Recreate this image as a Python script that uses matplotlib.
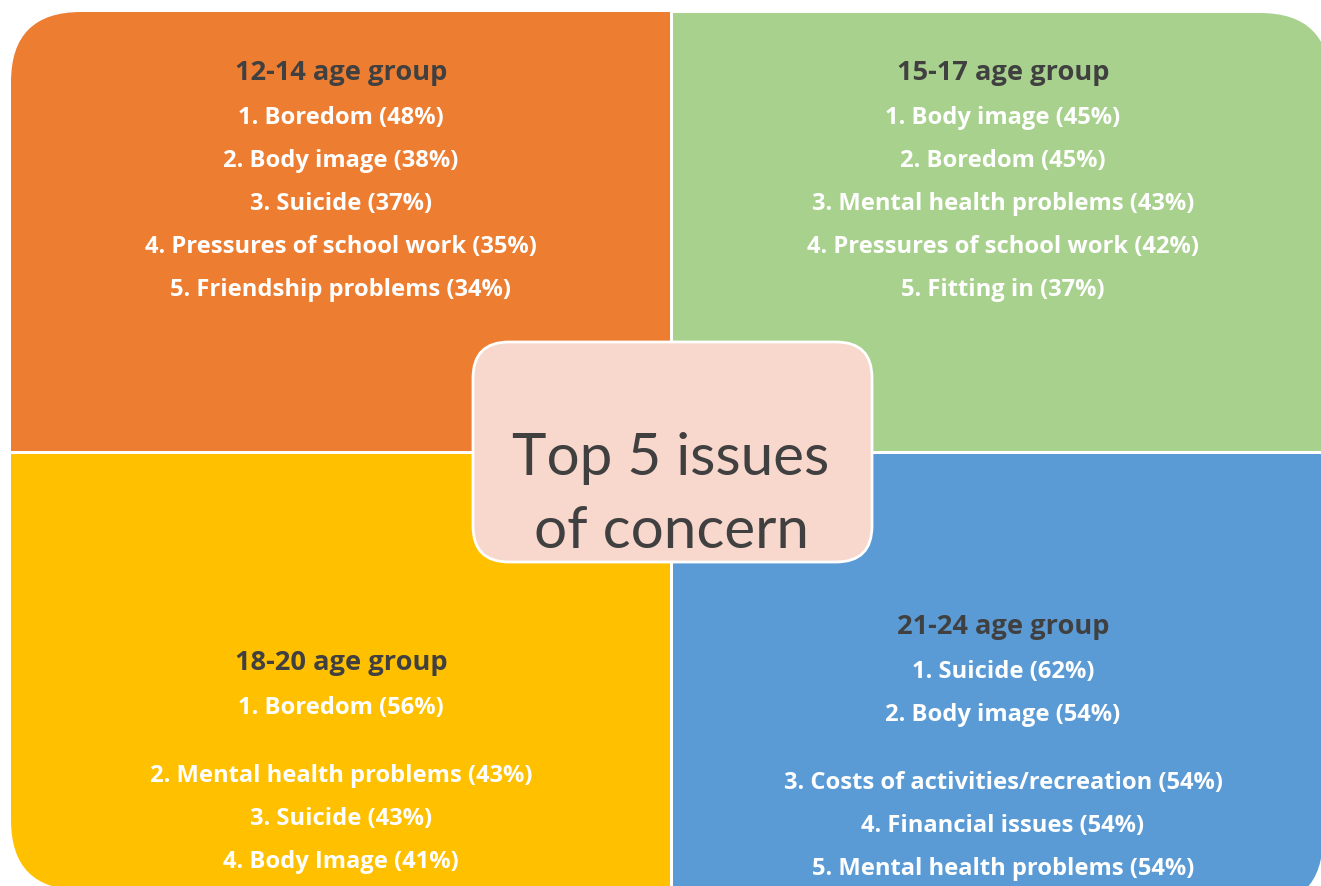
import matplotlib
matplotlib.use("Agg")
from matplotlib import pyplot as plt
from matplotlib.patches import FancyBboxPatch, Rectangle

# data
groups = ["12-14 age group", "15-17 age group", "18-20 age group", "21-24 age group"]
issues_1214 = ["Boredom", "Body image", "Suicide", "Pressures of school work", "Friendship problems"]
pct_1214 = [48, 38, 37, 35, 34]
issues_1517 = ["Body image", "Boredom", "Mental health problems", "Pressures of school work", "Fitting in"]
pct_1517 = [45, 45, 43, 42, 37]
issues_1820 = ["Boredom", "Mental health problems", "Suicide", "Body Image"]
pct_1820 = [56, 43, 43, 41]
issues_2124 = ["Suicide", "Body image", "Costs of activities/recreation", "Financial issues",
               "Mental health problems"]
pct_2124 = [62, 54, 54, 54, 54]
center_title = ["Top 5 issues", "of concern"]

W, H = 1321, 887
BOLD_FONT = "Open Sans"
FONT = "Lato"
DARK = "#404040"


def quadrant(ax, x0, y0, x1, y1, corner, color, r=70):
    # rectangle with just one rounded corner
    ax.add_patch(FancyBboxPatch((x0, y0), x1 - x0, y1 - y0,
                                boxstyle="round,pad=0,rounding_size=%d" % r,
                                fc=color, ec="none", zorder=1))
    left = corner in ("tl", "bl")
    top = corner in ("tl", "tr")
    if left:
        ax.add_patch(Rectangle((x0 + r, y0), x1 - x0 - r, y1 - y0, fc=color, ec="none", zorder=1))
    else:
        ax.add_patch(Rectangle((x0, y0), x1 - x0 - r, y1 - y0, fc=color, ec="none", zorder=1))
    if top:
        ax.add_patch(Rectangle((x0, y0 + r), x1 - x0, y1 - y0 - r, fc=color, ec="none", zorder=1))
    else:
        ax.add_patch(Rectangle((x0, y0), x1 - x0, y1 - y0 - r, fc=color, ec="none", zorder=1))


def text_block(ax, cx, base, title, issues, pcts, gap_after=None):
    ax.text(cx, base, title, ha="center", va="baseline", fontsize=19.6,
            fontweight="bold", color=DARK, family=BOLD_FONT, zorder=3)
    y = base + 44
    for i, (name, p) in enumerate(zip(issues, pcts)):
        ax.text(cx, y, "%d. %s (%d%%)" % (i + 1, name, p), ha="center", va="baseline",
                fontsize=17.1, fontweight="bold", color="white", family=BOLD_FONT, zorder=3)
        if gap_after is not None and i == gap_after:
            y += 68
        else:
            y += 43


fig = plt.figure(figsize=(W / 100, H / 100), dpi=100)
ax = fig.add_axes([0, 0, 1, 1])
ax.set_xlim(0, W)
ax.set_ylim(H, 0)
ax.axis("off")

quadrant(ax, 11, 13, 670, 452, "tl", "#ED7D31")
quadrant(ax, 673, 14, 1330, 452, "tr", "#A9D18E")
quadrant(ax, 11, 455, 670, 891, "bl", "#FFC000")
quadrant(ax, 673, 455, 1323, 908, "br", "#5B9BD5")

text_block(ax, 341, 80, groups[0], issues_1214, pct_1214)
text_block(ax, 1003, 80, groups[1], issues_1517, pct_1517)
text_block(ax, 341, 670, groups[2], issues_1820, pct_1820, gap_after=0)
text_block(ax, 1003, 634, groups[3], issues_2124, pct_2124, gap_after=1)

# centre box
ax.add_patch(FancyBboxPatch((473, 343), 399, 220, boxstyle="round,pad=0,rounding_size=36",
                            fc="#F8D7CC", ec="white", lw=2, zorder=4))
ax.text(671, 475, center_title[0], ha="center", va="baseline", fontsize=42,
        color=DARK, family=FONT, zorder=5)
ax.text(671, 548, center_title[1], ha="center", va="baseline", fontsize=42,
        color=DARK, family=FONT, zorder=5)

fig.savefig("out.png", dpi=100)
